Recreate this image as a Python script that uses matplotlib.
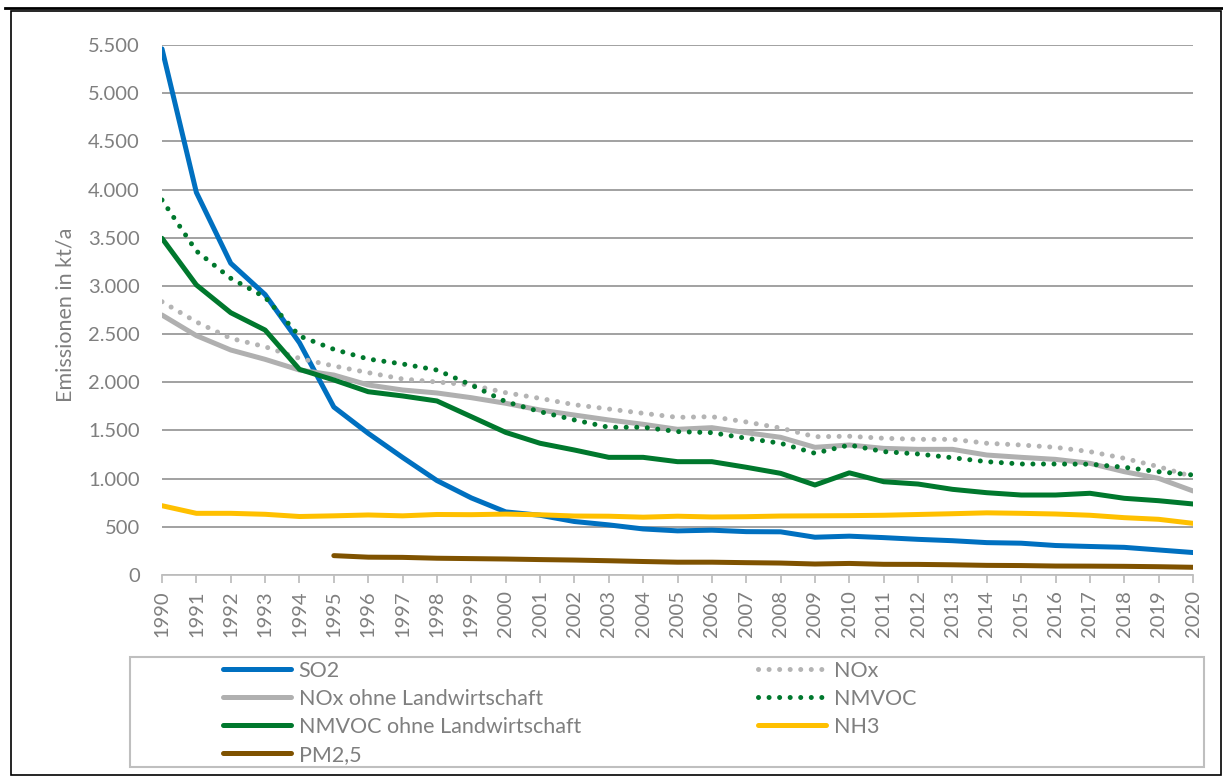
#importing packages
import numpy as np
import matplotlib.pyplot as plt
from matplotlib.lines import Line2D
from matplotlib.patches import Rectangle
from matplotlib.ticker import FuncFormatter, MultipleLocator

plt.rcParams['font.family'] = ['Lato', 'DejaVu Sans']

#data (kt/a)
years = np.arange(1990, 2021)
so2 = [5460, 3970, 3235, 2910, 2410, 1743, 1470, 1220, 980, 800, 655, 620, 555, 520, 478, 458,
       465, 450, 448, 392, 403, 388, 370, 356, 336, 330, 306, 296, 287, 260, 233]
nox = [2836, 2626, 2456, 2369, 2248, 2169, 2100, 2034, 2003, 1972, 1892, 1833, 1767, 1723, 1678, 1636,
       1643, 1588, 1525, 1435, 1440, 1419, 1408, 1408, 1367, 1349, 1325, 1280, 1211, 1124, 1020]
nox_ohne = [2698, 2484, 2335, 2238, 2127, 2075, 1972, 1920, 1889, 1840, 1782, 1712, 1660, 1609, 1564, 1512,
            1529, 1477, 1429, 1325, 1349, 1314, 1304, 1304, 1245, 1221, 1200, 1159, 1072, 1003, 872]
nmvoc = [3892, 3362, 3079, 2882, 2480, 2342, 2241, 2190, 2127, 1972, 1799, 1695, 1609, 1533, 1533, 1488,
         1477, 1419, 1367, 1263, 1349, 1280, 1256, 1217, 1176, 1152, 1152, 1150, 1118, 1072, 1038]
nmvoc_ohne = [3494, 3010, 2722, 2542, 2134, 2024, 1902, 1858, 1806, 1643, 1480, 1367, 1297, 1221, 1221, 1176,
              1176, 1118, 1055, 934, 1060, 968, 944, 889, 854, 830, 830, 848, 796, 771, 737]
nh3 = [719, 640, 640, 630, 607, 614, 623, 614, 628, 626, 632, 625, 612, 610, 600, 610,
       602, 605, 612, 614, 616, 620, 628, 636, 645, 640, 633, 620, 595, 578, 536]
pm25 = [np.nan] * 5 + [201, 185, 183, 174, 170, 166, 160, 155, 148, 140, 133, 133, 128, 124, 114, 120,
                       111, 110, 106, 100, 98, 93, 92, 90, 86, 80]

labels = ['SO2', 'NOx', 'NOx ohne Landwirtschaft', 'NMVOC', 'NMVOC ohne Landwirtschaft', 'NH3', 'PM2,5']
colors = ['#0070C0', '#B4B4B4', '#B0B0B0', '#00782D', '#00782D', '#FFC000', '#7F5200']
series = [so2, nox, nox_ohne, nmvoc, nmvoc_ohne, nh3, pm25]
dotted = [False, True, False, True, False, False, False]

W, H = 1223, 776
fig = plt.figure(figsize=(W / 100, H / 100), dpi=100)
ax = fig.add_axes([162 / W, 1 - 575 / H, 1031 / W, 530 / H])

#the lines
handles = []
for vals, lab, col, dot in zip(series, labels, colors, dotted):
    if dot:
        ln, = ax.plot(years, vals, color=col, lw=3.6, linestyle=(0, (0.01, 2.1)),
                      dash_capstyle='round', solid_joinstyle='round', label=lab)
    else:
        ln, = ax.plot(years, vals, color=col, lw=3.6, solid_capstyle='round',
                      solid_joinstyle='round', label=lab)
    handles.append(ln)

#axes styling
ax.set_xlim(1990, 2020)
ax.set_ylim(0, 5500)
ax.yaxis.set_major_locator(MultipleLocator(500))
ax.yaxis.set_major_formatter(FuncFormatter(lambda v, p: f"{v:,.0f}".replace(",", ".")))
ax.set_xticks(years)
ax.set_xticklabels([str(y) for y in years], rotation=90)
ax.grid(axis='y', color='#878787', lw=1.1)
ax.set_axisbelow(True)
for s in ['left', 'right', 'top']:
    ax.spines[s].set_visible(False)
ax.spines['bottom'].set_color('#BFBFBF')
ax.spines['bottom'].set_linewidth(1.3)
ax.tick_params(axis='y', length=0, pad=16, labelsize=14.5, labelcolor='#7F7F7F')
ax.tick_params(axis='x', length=6, width=1.3, color='#BFBFBF', pad=5, labelsize=14.5, labelcolor='#7F7F7F')
ax.set_ylabel('Emissionen in kt/a', fontsize=15.5, color='#7F7F7F')
ax.yaxis.set_label_coords(-0.084, 0.49)

#legend in two columns, drawn as two legends
opts = dict(frameon=False, fontsize=15.5, labelcolor='#7F7F7F', handlelength=3.15, handletextpad=0.37,
            labelspacing=0.37, borderpad=0, borderaxespad=0, loc='upper left')
col1 = [handles[i] for i in [0, 2, 4, 6]]
col2 = [handles[i] for i in [1, 3, 5]]
fig.legend(col1, [h.get_label() for h in col1], bbox_to_anchor=(223 / W, 1 - 661 / H), **opts)
fig.legend(col2, [h.get_label() for h in col2], bbox_to_anchor=(758 / W, 1 - 661 / H), **opts)

#legend box and outer frame
fig.add_artist(Rectangle((130 / W, 1 - 767 / H), 1074 / W, 110 / H, transform=fig.transFigure,
                         fill=False, edgecolor='#BFBFBF', lw=1.5))
fig.add_artist(Rectangle((11 / W, 1 - 775 / H), 1210 / W, 764 / H, transform=fig.transFigure,
                         fill=False, edgecolor='black', lw=1.2))
fig.add_artist(Line2D([5 / W, 1], [1 - 7.5 / H, 1 - 7.5 / H], transform=fig.transFigure,
                      color='black', lw=2))

fig.savefig('out.png', dpi=100)
